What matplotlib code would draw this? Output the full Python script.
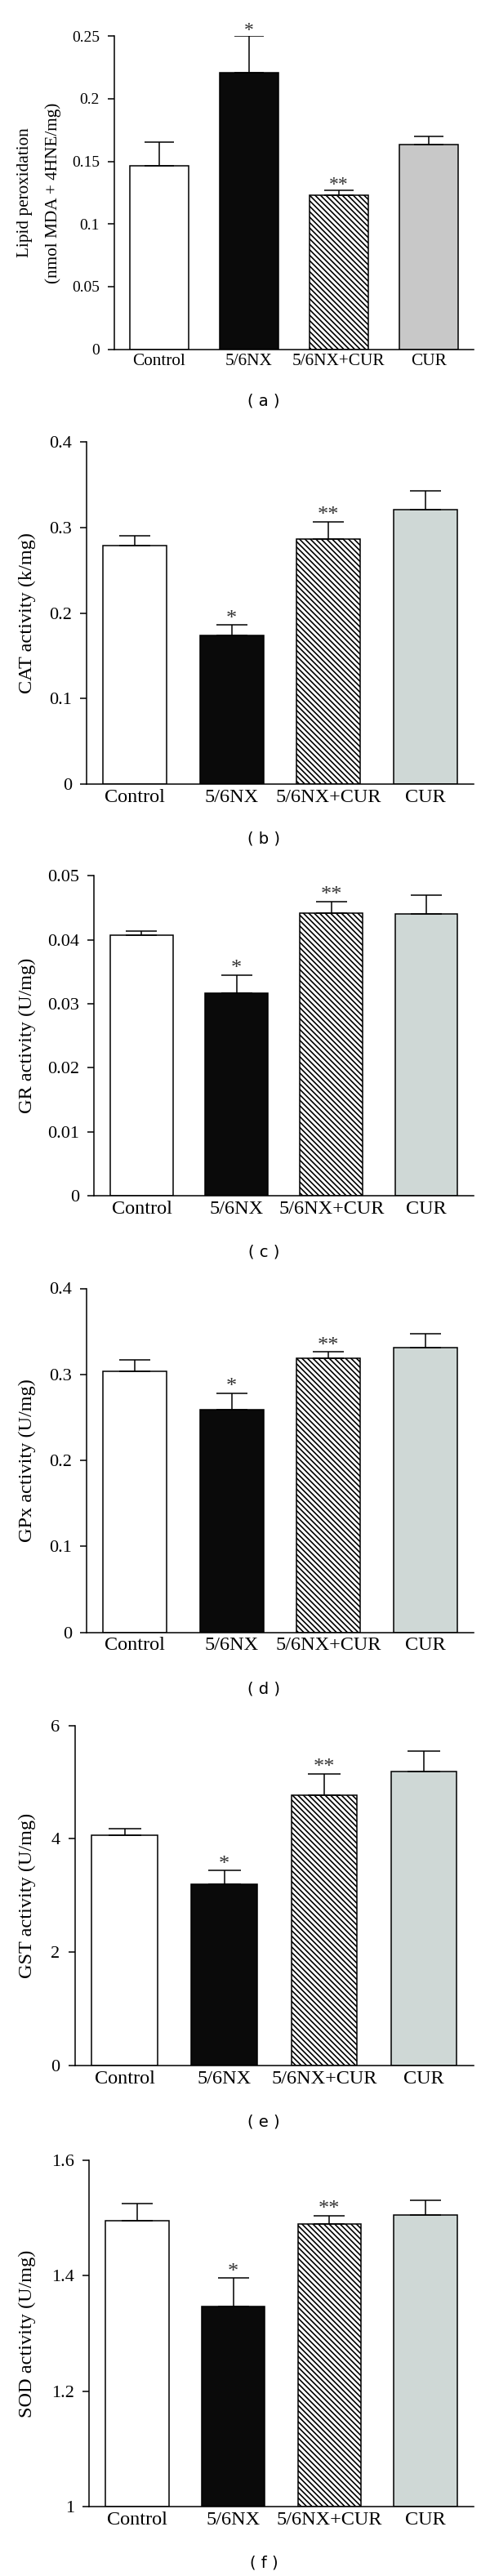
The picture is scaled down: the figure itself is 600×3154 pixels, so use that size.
import matplotlib
matplotlib.use("Agg")
import matplotlib.pyplot as plt
import numpy as np

plt.rcParams['font.family'] = ['Liberation Serif', 'DejaVu Serif']
plt.rcParams['hatch.linewidth'] = 1.2

groups = ["Control", "5/6NX", "5/6NX+CUR", "CUR"]
signif = ["", "*", "**", ""]

lipid_mean = [0.1465, 0.221, 0.1229, 0.1634]
lipid_err = [0.019, 0.029, 0.004, 0.0066]
cat_mean = [0.279, 0.174, 0.286, 0.3205]
cat_err = [0.011, 0.012, 0.0205, 0.022]
gr_mean = [0.0407, 0.0316, 0.0441, 0.0440]
gr_err = [0.0007, 0.0029, 0.0019, 0.0030]
gpx_mean = [0.304, 0.2586, 0.3184, 0.331]
gpx_err = [0.0125, 0.0197, 0.008, 0.016]
gst_mean = [4.07, 3.20, 4.77, 5.19]
gst_err = [0.11, 0.24, 0.38, 0.36]
sod_mean = [1.495, 1.347, 1.489, 1.505]
sod_err = [0.030, 0.049, 0.015, 0.026]

ticks_a = [0, 0.05, 0.1, 0.15, 0.2, 0.25]
ticklabels_a = ["0", "0.05", "0.1", "0.15", "0.2", "0.25"]
ticks_b = [0, 0.1, 0.2, 0.3, 0.4]
ticklabels_b = ["0", "0.1", "0.2", "0.3", "0.4"]
ticks_c = [0, 0.01, 0.02, 0.03, 0.04, 0.05]
ticklabels_c = ["0", "0.01", "0.02", "0.03", "0.04", "0.05"]
ticks_e = [0, 2, 4, 6]
ticklabels_e = ["0", "2", "4", "6"]
ticks_f = [1, 1.2, 1.4, 1.6]
ticklabels_f = ["1", "1.2", "1.4", "1.6"]

W, H = 600, 3154
fig = plt.figure(figsize=(W / 100, H / 100), dpi=100)

# (left, right, top, bottom) in pixels
panels = [
    dict(box=(140, 580, 44.3, 427.5), mean=lipid_mean, err=lipid_err, ylim=(0, 0.25),
         ticks=ticks_a, tl=ticklabels_a, ylabel=["Lipid peroxidation", "(nmol MDA + 4HNE/mg)"],
         tag="( a )", tagy=490.7, cur="#c8c8c8", fs_tick=14, fs_x=15.3, fs_lab=15.3),
    dict(box=(106, 580, 540.8, 960.3), mean=cat_mean, err=cat_err, ylim=(0, 0.4),
         ticks=ticks_b, tl=ticklabels_b, ylabel=["CAT activity (k/mg)"],
         tag="( b )", tagy=1027, cur="#cfd8d6", fs_tick=16, fs_x=17.5, fs_lab=17.5),
    dict(box=(115.4, 580, 1072.2, 1464.3), mean=gr_mean, err=gr_err, ylim=(0, 0.05),
         ticks=ticks_c, tl=ticklabels_c, ylabel=["GR activity (U/mg)"],
         tag="( c )", tagy=1532.9, cur="#cfd8d6", fs_tick=16, fs_x=17.5, fs_lab=17.5),
    dict(box=(106, 580, 1577.5, 1998.5), mean=gpx_mean, err=gpx_err, ylim=(0, 0.4),
         ticks=ticks_b, tl=ticklabels_b, ylabel=["GPx activity (U/mg)"],
         tag="( d )", tagy=2068, cur="#cfd8d6", fs_tick=16, fs_x=17.5, fs_lab=17.5),
    dict(box=(91.5, 580, 2112.5, 2529.2), mean=gst_mean, err=gst_err, ylim=(0, 6),
         ticks=ticks_e, tl=ticklabels_e, ylabel=["GST activity (U/mg)"],
         tag="( e )", tagy=2598.4, cur="#cfd8d6", fs_tick=16, fs_x=17.5, fs_lab=17.5),
    dict(box=(109, 580, 2645, 3069), mean=sod_mean, err=sod_err, ylim=(1, 1.6),
         ticks=ticks_f, tl=ticklabels_f, ylabel=["SOD activity (U/mg)"],
         tag="( f )", tagy=3138, cur="#cfd8d6", fs_tick=16, fs_x=17.5, fs_lab=17.5),
]

x = np.arange(len(groups))
bw = 0.66

for p in panels:
    L, R, T, B = p["box"]
    ax = fig.add_axes([L / W, 1 - B / H, (R - L) / W, (B - T) / H])
    ymin = p["ylim"][0]
    heights = [m - ymin for m in p["mean"]]
    fills = ["white", "#0a0a0a", "white", p["cur"]]
    hatches = [None, None, "\\\\\\\\\\", None]
    bars = ax.bar(x, heights, bottom=ymin, width=bw, color=fills, edgecolor="black",
                  linewidth=1.1, zorder=2)
    for b_, h_ in zip(bars, hatches):
        if h_:
            b_.set_hatch(h_)
    barpx = bw * (R - L) / 4
    cap = 0.245 * barpx / 1.389
    ax.errorbar(x, p["mean"], yerr=[np.zeros(len(x)), p["err"]], fmt="none",
                ecolor="black", elinewidth=1.1, capsize=cap, capthick=1.1, zorder=3)
    for xi, m, e, s in zip(x, p["mean"], p["err"], signif):
        if s:
            ax.annotate(s, (xi, m + e), xytext=(0, 1), textcoords="offset points",
                        ha="center", va="baseline", fontsize=p["fs_tick"] + 3,
                        color="#333333")
    ax.set_xlim(-0.5, 3.5)
    ax.set_ylim(*p["ylim"])
    ax.set_yticks(p["ticks"])
    ax.set_yticklabels(p["tl"])
    ax.set_xticks(x)
    ax.set_xticklabels(groups)
    ax.tick_params(axis="x", length=0, pad=4, labelsize=p["fs_x"])
    ax.tick_params(axis="y", length=6, width=1.1, pad=7, labelsize=p["fs_tick"], direction="out")
    for sp in ["top", "right"]:
        ax.spines[sp].set_visible(False)
    for sp in ["left", "bottom"]:
        ax.spines[sp].set_linewidth(1.1)
    cy = 1 - (T + B) / 2 / H
    if len(p["ylabel"]) == 2:
        fig.text(31 / W, cy, p["ylabel"][0], rotation=90, ha="center", va="center",
                 fontsize=p["fs_lab"])
        fig.text(65 / W, cy, p["ylabel"][1], rotation=90, ha="center", va="center",
                 fontsize=p["fs_lab"])
    else:
        fig.text(33 / W, cy, p["ylabel"][0], rotation=90, ha="center", va="center",
                 fontsize=p["fs_lab"])
    fig.text(323 / W, 1 - p["tagy"] / H, p["tag"], ha="center", va="center",
             fontsize=14, family="DejaVu Sans")

fig.savefig("out.png", dpi=100, facecolor="white")
